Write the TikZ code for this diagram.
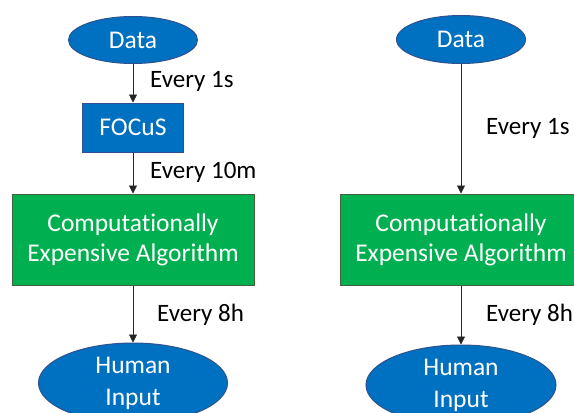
\documentclass[tikz,border=0pt]{standalone}
\usepackage{fontspec}
\setmainfont{Carlito}[Ligatures=NoCommon]
\usetikzlibrary{shapes.geometric,arrows.meta}
\definecolor{blfill}{HTML}{0070C0}
\definecolor{blbord}{HTML}{2F528F}
\definecolor{grfill}{HTML}{00B050}
\definecolor{grbord}{HTML}{41623A}
\begin{document}
\begin{tikzpicture}[x=1pt,y=-1pt,
  every node/.style={font=\fontsize{25.5}{30}\selectfont},
  blueell/.style={ellipse, draw=blbord, fill=blfill, line width=1pt, text=white, inner sep=0pt, align=center},
  bluebox/.style={rectangle, draw=blbord, fill=blfill, line width=1pt, text=white, inner sep=0pt, minimum width=101pt, minimum height=49pt},
  greenbox/.style={rectangle, draw=grbord, fill=grfill, line width=1pt, text=white, inner sep=0pt, align=center, minimum width=242pt, minimum height=91pt},
  lbl/.style={anchor=west, text=black, inner sep=0pt, font=\fontsize{25}{30}\selectfont},
  conn/.style={draw=black!85, line width=0.7pt, -{Triangle[length=8pt,width=8pt]}}]
\useasboundingbox (0,0) rectangle (574,413);
\clip (0,0) rectangle (574,413);
\fill[white] (0,0) rectangle (574,413);
% left column
\node[blueell, minimum width=129pt, minimum height=47pt] (d1) at (133,40) {Data};
\node[bluebox] (f1) at (133,127.5) {FOCuS};
\node[greenbox] (c1) at (133,239.5) {Computationally\\Expensive Algorithm};
\node[blueell, minimum width=189pt, minimum height=80pt, font=\fontsize{25.5}{32}\selectfont] (h1) at (133,383) {Human\\Input};
\draw[conn] (d1.south) -- (f1.north);
\draw[conn] (f1.south) -- (c1.north);
\draw[conn] (c1.south) -- (h1.north);
\node[lbl] (l1) at (150,81) {Every 1s};
\node[lbl] (l2) at (150,172) {Every 10m};
\node[lbl] (l3) at (157,315) {Every 8h};
% right column
\node[blueell, minimum width=129pt, minimum height=48pt] (d2) at (461,39.5) {Data};
\node[greenbox] (c2) at (461,239.5) {Computationally\\Expensive Algorithm};
\node[blueell, minimum width=190pt, minimum height=80pt, font=\fontsize{25.5}{32}\selectfont] (h2) at (461,385) {Human\\Input};
\draw[conn] (d2.south) -- (c2.north);
\draw[conn] (c2.south) -- (h2.north);
\node[lbl] (l4) at (486,128) {Every 1s};
\node[lbl] (l5) at (486,315) {Every 8h};
\end{tikzpicture}
\end{document}
